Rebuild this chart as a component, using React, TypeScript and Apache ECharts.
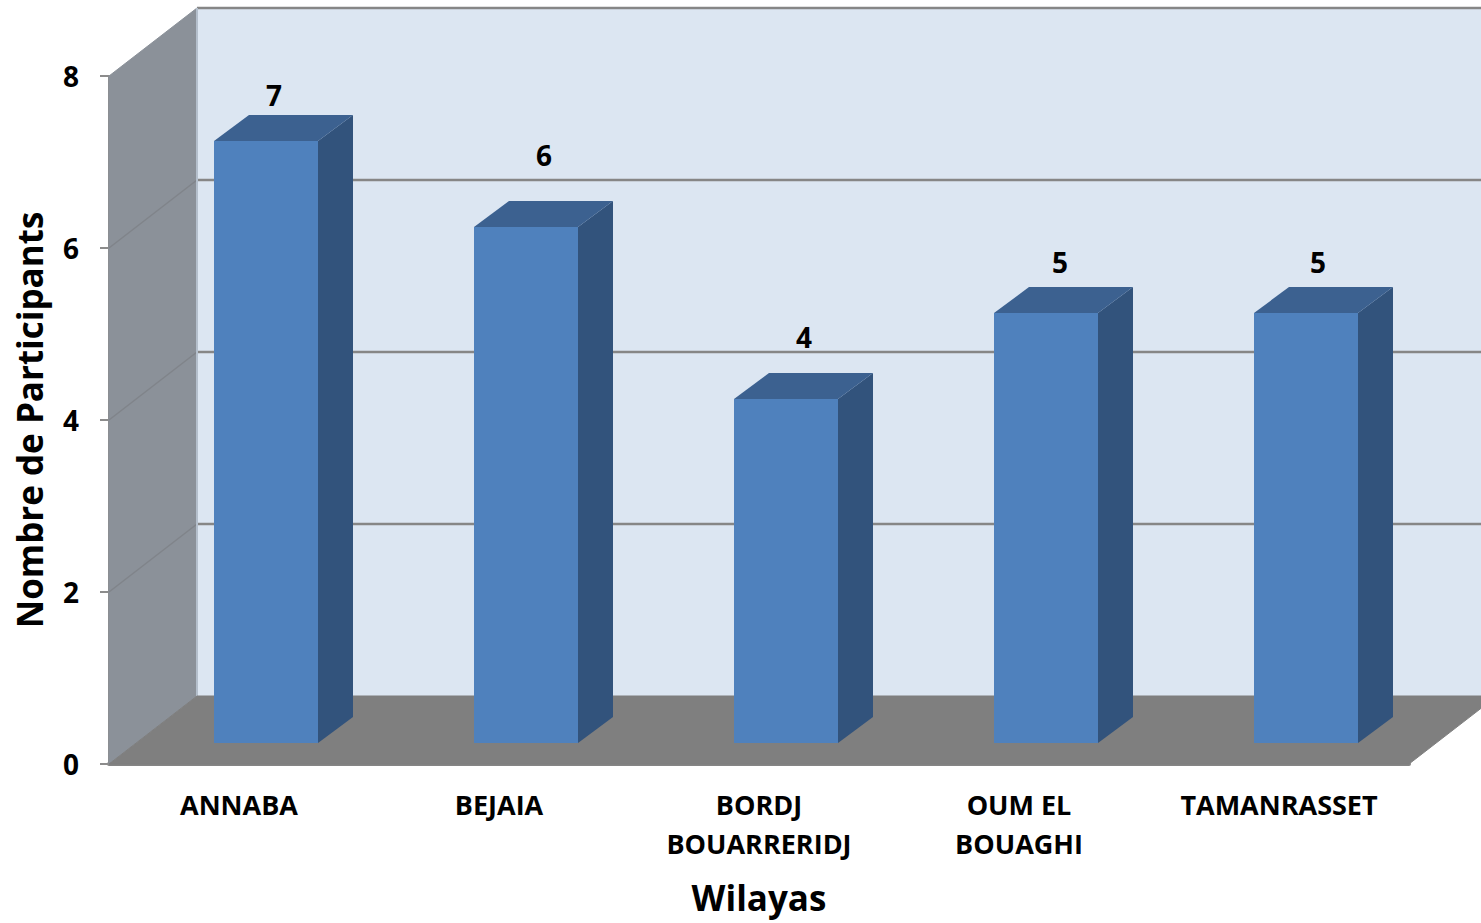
import React, { useEffect, useRef } from "react";
import * as echarts from "echarts";

const categories = ["ANNABA", "BEJAIA", "BORDJ\nBOUARRERIDJ", "OUM EL\nBOUAGHI", "TAMANRASSET"];
const participants = [7, 6, 4, 5, 5];
const yTicks = [0, 2, 4, 6, 8];

const FONT = "'Open Sans', 'Noto Sans', sans-serif";
const labelShift = [
  [35, -46],
  [45, -72],
  [45, -62],
  [41, -51],
  [39, -51],
];

const WALL_DX = 88;
const WALL_DY = -68;
const BAR_DY = -21;
const TOP_DX = 35;
const TOP_DY = -26;
const BAR_W = 104;
const BAR_LEFT = -25;

const poly = (points: number[][], fill: string, lineWidth = 0) => ({
  type: "polygon",
  shape: { points },
  style: { fill, stroke: fill, lineWidth },
});
const seg = (x1: number, y1: number, x2: number, y2: number, stroke: string, lineWidth: number) => ({
  type: "line",
  shape: { x1, y1, x2, y2 },
  style: { stroke, lineWidth },
});

function renderScene(params: any, api: any) {
  const c = params.coordSys;
  const L = c.x;
  const R = c.x + c.width;
  const y0 = api.coord([0, 0])[1];
  const y8 = api.coord([0, 8])[1];
  const bx = L + WALL_DX;
  const children: any[] = [
    poly([[bx, y8 + WALL_DY], [R + WALL_DX, y8 + WALL_DY], [R + WALL_DX, y0 + WALL_DY], [bx, y0 + WALL_DY]], "#dce6f2", 1),
    poly([[L, y8], [bx, y8 + WALL_DY], [bx, y0 + WALL_DY], [L, y0]], "#8b9199", 1),
  ];
  yTicks.forEach((t) => {
    const y = api.coord([0, t])[1];
    if (t > 0) children.push(seg(bx, y + WALL_DY, R + WALL_DX, y + WALL_DY, "#868686", 2.5));
    if (t > 0 && t < 8) children.push(seg(L, y, bx, y + WALL_DY, "#80848a", 1.5));
  });
  children.push(seg(bx, y8 + WALL_DY, bx, y0 + WALL_DY, "#b4bfcc", 2));
  children.push(poly([[L, y0], [bx, y0 + WALL_DY], [R + WALL_DX, y0 + WALL_DY], [R, y0]], "#7f7f7f", 1));
  return { type: "group", children };
}

function renderBar(params: any, api: any) {
  const i = api.value(0);
  const v = api.value(1);
  const cx = api.coord([i, 0])[0];
  const y0 = api.coord([i, 0])[1] + BAR_DY;
  const yT = api.coord([i, v])[1] + BAR_DY;
  const x1 = cx + BAR_LEFT;
  const x2 = x1 + BAR_W;
  const shift = labelShift[i];
  return {
    type: "group",
    children: [
      poly([[x2, yT], [x2 + TOP_DX, yT + TOP_DY], [x2 + TOP_DX, y0 + TOP_DY], [x2, y0]], "#32537c"),
      poly([[x1, yT], [x1 + TOP_DX, yT + TOP_DY], [x2 + TOP_DX, yT + TOP_DY], [x2, yT]], "#3c6190"),
      poly([[x1, yT], [x2, yT], [x2, y0], [x1, y0]], "#4f81bd"),
      {
        type: "text",
        style: {
          text: String(v),
          x: cx + shift[0],
          y: yT + shift[1],
          fill: "#000",
          font: `700 28px ${FONT}`,
          textAlign: "center",
          textVerticalAlign: "middle",
        },
      },
    ],
  };
}

export default function App() {
  const ref = useRef<HTMLDivElement>(null);
  useEffect(() => {
    const chart = echarts.init(ref.current!, null, { renderer: "svg" });
    chart.setOption({
      animation: false,
      backgroundColor: "#ffffff",
      grid: { left: 109, top: 76, width: 1300, height: 688, containLabel: false, outerBoundsMode: "none" },
      xAxis: {
        type: "category",
        data: categories,
        name: "Wilayas",
        nameLocation: "middle",
        nameGap: 116,
        nameMoveOverlap: false,
        nameTextStyle: { fontFamily: FONT, fontWeight: 700, fontSize: 35, color: "#000" },
        axisTick: { show: false },
        axisLine: { show: true, lineStyle: { color: "#858585", width: 4 } },
        axisLabel: {
          interval: 0,
          margin: 21,
          fontFamily: FONT,
          fontWeight: 700,
          fontSize: 27,
          lineHeight: 39,
          color: "#000",
        },
        splitLine: { show: false },
      },
      yAxis: {
        type: "value",
        min: 0,
        max: 8,
        interval: 2,
        name: "Nombre de Participants",
        nameLocation: "middle",
        nameGap: 62,
        nameRotate: 90,
        nameMoveOverlap: false,
        nameTextStyle: { fontFamily: FONT, fontWeight: 700, fontSize: 35, color: "#000" },
        axisLine: { show: true, lineStyle: { color: "#8c8c8c", width: 2 } },
        axisTick: { show: true, length: 9, lineStyle: { color: "#8c8c8c", width: 2 } },
        axisLabel: { margin: 30, fontFamily: FONT, fontWeight: 700, fontSize: 28, color: "#000" },
        splitLine: { show: false },
      },
      series: [
        {
          type: "custom",
          name: "scene",
          silent: true,
          z: 1,
          data: [[0, 0]],
          encode: { x: 0, y: 1 },
          renderItem: renderScene,
        },
        {
          type: "custom",
          name: "Nombre de Participants",
          z: 3,
          data: participants.map((v, i) => [i, v]),
          encode: { x: 0, y: 1 },
          renderItem: renderBar,
        },
      ],
    });
    return () => chart.dispose();
  }, []);
  return <div ref={ref} style={{ position: "absolute", left: 0, top: 0, width: 1481, height: 923 }} />;
}
